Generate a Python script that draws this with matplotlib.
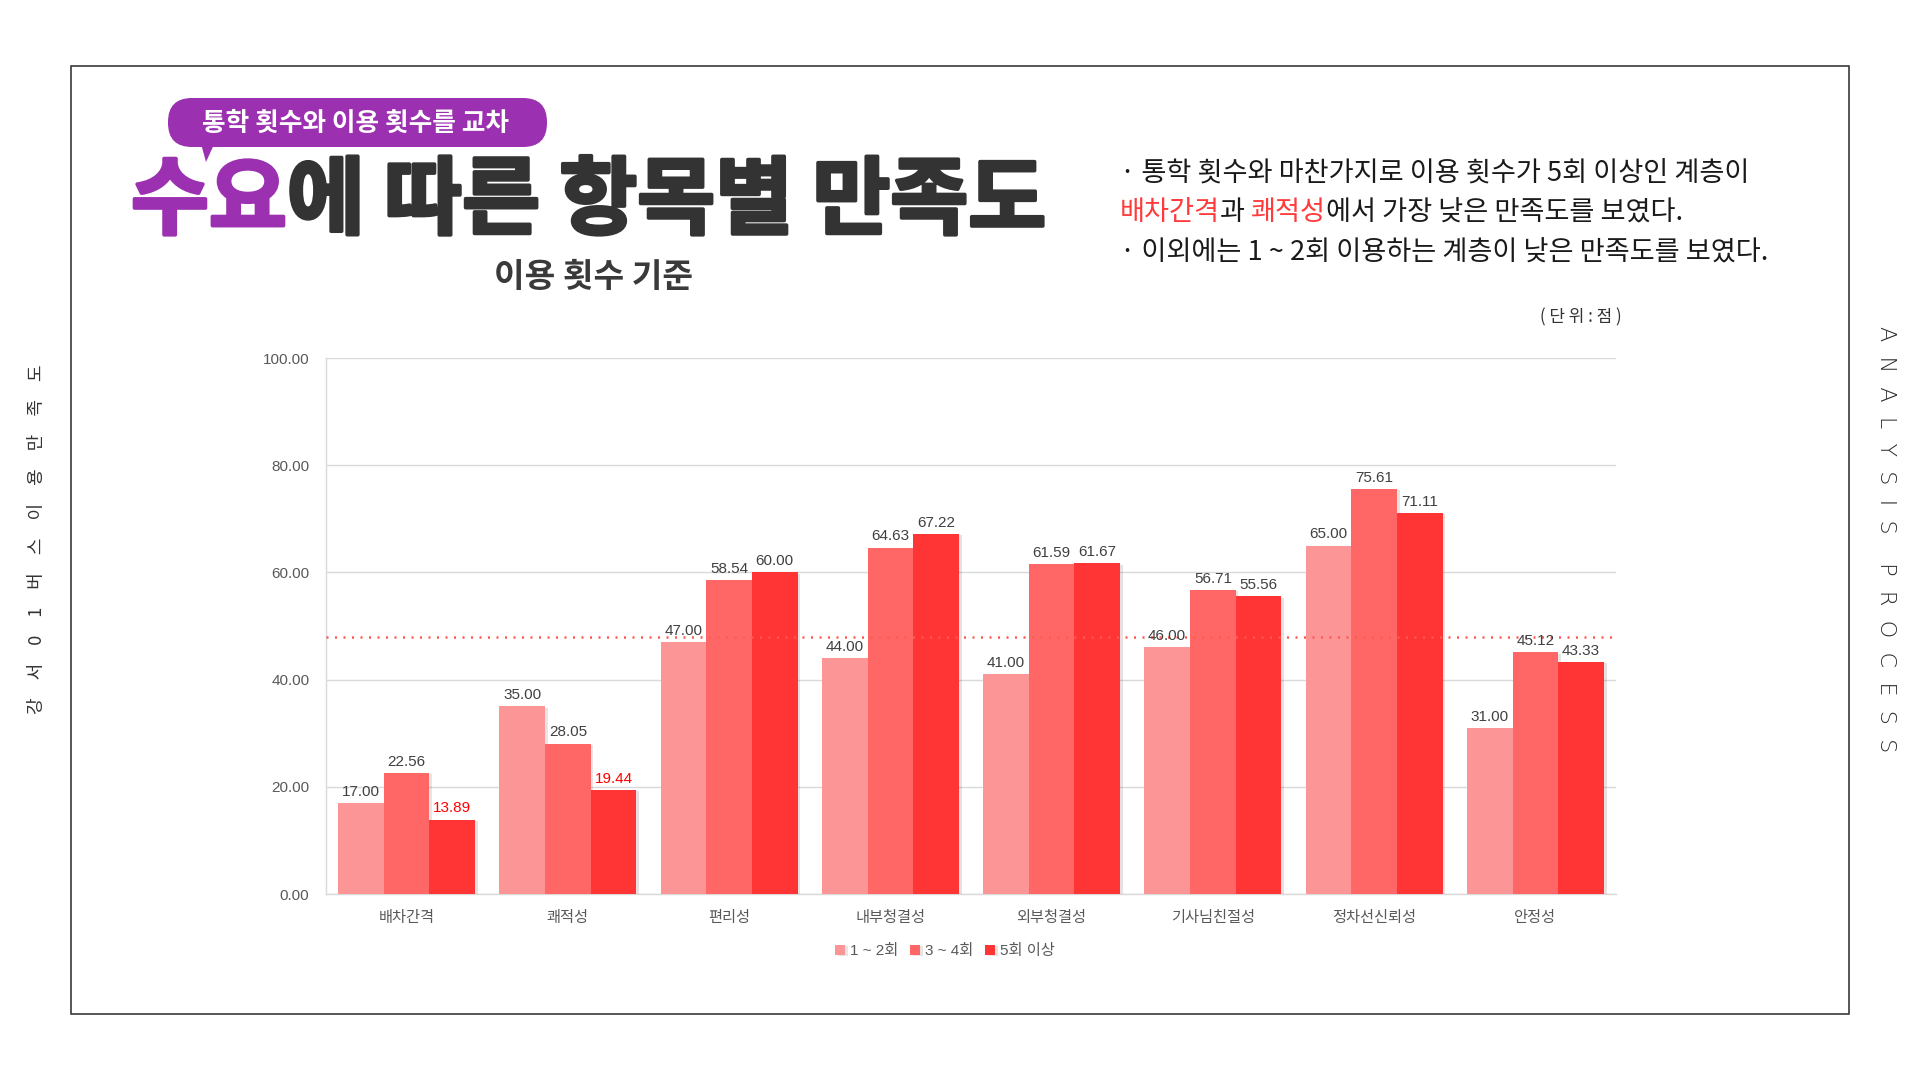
import numpy as np
import matplotlib
matplotlib.use("Agg")
import matplotlib.pyplot as plt
from matplotlib.patches import FancyBboxPatch, Polygon, Rectangle
import matplotlib.patheffects as pe

# 항목 / 계열 데이터
categories = ["배차간격", "쾌적성", "편리성", "내부청결성", "외부청결성", "기사님친절성", "정차선신뢰성", "안정성"]
series_names = ["1 ~ 2회", "3 ~ 4회", "5회 이상"]
v_1_2 = [17.00, 35.00, 47.00, 44.00, 41.00, 46.00, 65.00, 31.00]
v_3_4 = [22.56, 28.05, 58.54, 64.63, 61.59, 56.71, 75.61, 45.12]
v_5 = [13.89, 19.44, 60.00, 67.22, 61.67, 55.56, 71.11, 43.33]
avg_line = 48.0
highlight = {("5회 이상", "배차간격"), ("5회 이상", "쾌적성")}
y_ticks = [0, 20, 40, 60, 80, 100]

colors = ["#FC9696", "#FF6767", "#FF3535"]
purple = "#9B30B0"
dark = "#333333"
num_font = ["Liberation Sans", "Noto Sans CJK KR"]
kr_font = ["Noto Sans CJK KR", "DejaVu Sans"]

plt.rcParams["font.family"] = kr_font

fig = plt.figure(figsize=(19.2, 10.8), dpi=100)
fig.patch.set_facecolor("white")

# 장식용 레이어 (픽셀 좌표)
ax0 = fig.add_axes([0, 0, 1, 1])
ax0.set_xlim(0, 1920)
ax0.set_ylim(1080, 0)
ax0.axis("off")

ax0.add_patch(Rectangle((71, 66), 1778, 948, fill=False, ec="#3a3a3a", lw=1.2))

# 말풍선
ax0.add_patch(FancyBboxPatch((168, 98), 379, 49, boxstyle="round,pad=0,rounding_size=24",
                             fc=purple, ec="none"))
ax0.add_patch(Polygon([(200, 140), (216, 140), (206, 162)], closed=True, fc=purple, ec="none"))
ax0.text(355, 123, "통학 횟수와 이용 횟수를 교차", color="white", fontsize=18.5, weight="bold",
         ha="center", va="center")

# 제목 (굵게 보이도록 같은 색 외곽선)
thick_p = [pe.withStroke(linewidth=2.6, foreground=purple)]
thick_d = [pe.withStroke(linewidth=2.6, foreground=dark)]
t1 = ax0.text(131, 202, "수요", color=purple, fontsize=61, weight="bold", ha="left",
              va="center", path_effects=thick_p)
ax0.annotate("에 따른 항목별 만족도", xy=(1, 0), xycoords=t1, color=dark, fontsize=61,
             weight="bold", ha="left", va="bottom", path_effects=thick_d)
ax0.text(594, 277, "이용 횟수 기준", color="#3a3a3a", fontsize=24, weight="bold",
         ha="center", va="center")

# 설명 문구
fs = 19.6
txt_c = "#1a1a1a"
red = "#FF3B3B"
ax0.text(1120, 174, "· 통학 횟수와 마찬가지로 이용 횟수가 5회 이상인 계층이", fontsize=fs,
         color=txt_c, ha="left", va="center")
a = ax0.text(1120, 213, "배차간격", fontsize=fs, color=red, ha="left", va="center")
b = ax0.annotate("과 ", xy=(1, 0), xycoords=a, fontsize=fs, color=txt_c, ha="left", va="bottom")
c = ax0.annotate("쾌적성", xy=(1, 0), xycoords=b, fontsize=fs, color=red, ha="left", va="bottom")
ax0.annotate("에서 가장 낮은 만족도를 보였다.", xy=(1, 0), xycoords=c, fontsize=fs,
             color=txt_c, ha="left", va="bottom")
ax0.text(1120, 253, "· 이외에는 1 ~ 2회 이용하는 계층이 낮은 만족도를 보였다.", fontsize=fs,
         color=txt_c, ha="left", va="center")

ax0.text(1622, 317, "( 단 위 : 점 )", fontsize=12.2, color="#333333", ha="right", va="center")

# 좌우 세로 문구
ax0.text(37, 539, "\u3000".join("강서01버스이용만족도"), rotation=90, fontsize=13,
         color="#333333", ha="center", va="center")
ax0.text(1886, 539, "  ".join("ANALYSIS") + "    " + "  ".join("PROCESS"), rotation=-90,
         fontsize=16, family=["DejaVu Sans"], weight="light", color="#2a2a2a",
         ha="center", va="center")

# 차트
ax = fig.add_axes([326 / 1920, 1 - 894 / 1080, (1616 - 326) / 1920, (894 - 358) / 1080])
ax.set_facecolor("none")
x = np.arange(len(categories))
w = 0.85 / 3
all_vals = [v_1_2, v_3_4, v_5]
shadow = [pe.SimplePatchShadow(offset=(2, -1), alpha=0.12), pe.Normal()]
for i, (name, vals) in enumerate(zip(series_names, all_vals)):
    bars = ax.bar(x + (i - 1) * w, vals, w, color=colors[i], label=name, zorder=3)
    for bar in bars:
        bar.set_path_effects(shadow)
    for j, (bar, v) in enumerate(zip(bars, vals)):
        col = "#FF0000" if (name, categories[j]) in highlight else "#404040"
        ax.annotate(f"{v:.2f}", xy=(bar.get_x() + bar.get_width() / 2, v),
                    xytext=(0, 3), textcoords="offset points", ha="center", va="bottom",
                    fontsize=11, color=col, family=num_font, zorder=5)

ax.axhline(avg_line, color="#FF5A4E", lw=1.8, ls=(0, (0.8, 2.6)), zorder=4)

ax.set_xlim(-0.5, len(categories) - 0.5)
ax.set_ylim(0, 100)
ax.set_yticks(y_ticks)
ax.set_yticklabels([f"{t:.2f}" for t in y_ticks], family=num_font, fontsize=11, color="#595959")
ax.set_xticks(x)
ax.set_xticklabels(categories, fontsize=11, color="#595959")
ax.tick_params(axis="both", length=0)
ax.tick_params(axis="y", pad=12)
ax.tick_params(axis="x", pad=11)
ax.grid(axis="y", color="#D9D9D9", lw=1, zorder=0)
for s in ["top", "right"]:
    ax.spines[s].set_visible(False)
for s in ["left", "bottom"]:
    ax.spines[s].set_color("#D9D9D9")
    ax.spines[s].set_linewidth(1)

leg = ax.legend(loc="center", bbox_to_anchor=(945 / 1920, 1 - 951 / 1080),
                bbox_transform=fig.transFigure, ncol=3, frameon=False,
                handlelength=0.65, handleheight=0.65, handletextpad=0.3,
                columnspacing=0.8, prop={"family": num_font, "size": 11})
for t in leg.get_texts():
    t.set_color("#595959")

fig.savefig("out.png", dpi=100, facecolor="white")
